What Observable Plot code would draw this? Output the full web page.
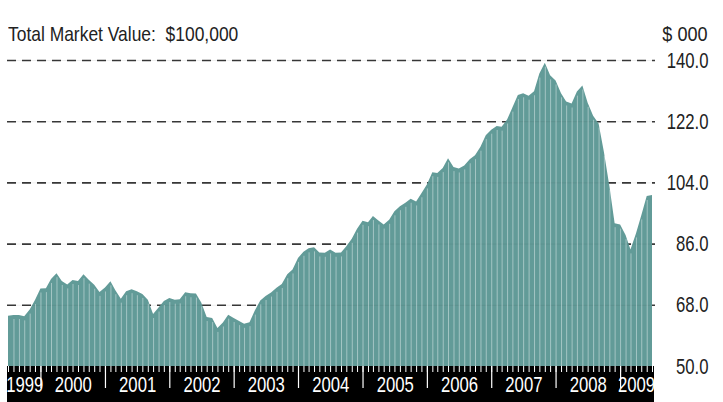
<!DOCTYPE html>
<html>
<head>
<meta charset="utf-8">
<script src="https://cdn.jsdelivr.net/npm/d3@7"></script>
<script src="https://cdn.jsdelivr.net/npm/@observablehq/plot@0.6"></script>
<style>
  body { margin: 0; background: #fff; }
  #wrap { position: relative; width: 723px; height: 402px;
          font-family: "Liberation Sans", Arial, sans-serif; }
  .lbl { position: absolute; top: 23px; font-size: 21px; line-height: 21px; color: #222; white-space: pre; }
</style>
</head>
<body>
<div id="wrap"></div>
<script>
// ---- data ----
const title = "Total Market Value:  $100,000";
const unitLabel = "$ 000";
const startYear = 1999, startMonth = 6; // July 1999 (0-based month)
const values = [
  64.8, 65.0, 65.0, 64.6, 66.6, 69.4,                          // 1999 Jul-Dec
  72.8, 72.9, 75.6, 77.3, 75.0, 74.0, 75.3, 75.0, 77.0, 75.4, 73.9, 71.8, // 2000
  73.1, 74.9, 72.3, 69.8, 72.0, 72.6, 72.0, 71.2, 69.5, 65.3, 67.2, 69.1, // 2001
  70.0, 69.5, 69.6, 71.7, 71.4, 71.3, 68.7, 64.4, 64.1, 61.2, 62.8, 65.1, // 2002
  64.1, 63.2, 62.4, 62.9, 66.3, 69.3, 70.6, 71.6, 73.0, 74.1, 77.0, 78.4, // 2003
  81.8, 83.6, 84.6, 84.9, 83.4, 83.3, 84.3, 83.3, 83.4, 85.2, 87.4, 90.4, // 2004
  92.7, 92.3, 94.1, 92.8, 91.6, 93.0, 95.5, 97.0, 98.0, 99.2, 98.4, 100.8, // 2005
  103.4, 107.0, 106.8, 108.2, 111.1, 108.5, 108.1, 109.0, 110.8, 112.0, 114.5, 117.9, // 2006
  119.5, 120.6, 120.4, 122.5, 126.0, 129.7, 130.2, 129.5, 130.8, 136.0, 139.2, 135.5, // 2007
  134.0, 130.2, 127.8, 127.2, 130.7, 132.5, 127.4, 123.6, 121.3, 113.0, 103.0, 92.0, // 2008
  91.6, 88.5, 84.3, 89.0, 94.3, 100.0, 100.3                  // 2009 Jan-Jul
];
const yTicks = [50, 68, 86, 104, 122, 140];
const years = ["1999", "2000", "2001", "2002", "2003", "2004", "2005", "2006", "2007", "2008", "2009"];

// ---- derived tables ----
const start = new Date(Date.UTC(startYear, startMonth, 1));
const data = values.map((v, i) => ({ date: d3.utcMonth.offset(start, i), value: v }));
const x0 = data[0].date, x1 = data[data.length - 1].date;
const yearInfo = years.map(y => {
  const a = new Date(Date.UTC(+y, 0, 1)), b = new Date(Date.UTC(+y + 1, 0, 1));
  const lo = a < x0 ? x0 : a, hi = b > x1 ? x1 : b;
  return { year: y, start: a, mid: new Date((+lo + +hi) / 2) };
});
const yearBounds = yearInfo.filter(d => d.start > x0 && d.start <= x1);

const H = 402, mTop = 60, mBottom = 36;
const unitsPerPx = (140 - 50) / (H - mTop - mBottom);
const px = p => p * unitsPerPx;   // pixel length -> y units

const teal = "#629b98";
const font = '"Liberation Sans", Arial, sans-serif';

const chart = Plot.plot({
  width: 723, height: H,
  marginLeft: 8, marginRight: 71, marginTop: mTop, marginBottom: mBottom,
  x: { type: "utc", domain: [x0, x1], axis: null },
  y: { domain: [50, 140], axis: null },
  style: { fontFamily: font, background: "transparent", overflow: "visible" },
  marks: [
    Plot.ruleY(yTicks.filter(d => d > 50), { y: d => d, stroke: "#3a3a3a", strokeWidth: 1.6, strokeDasharray: "9,6", insetLeft: -1, insetRight: -3 }),
    Plot.areaY(data, { x: "date", y1: 50, y2: "value", fill: teal }),
    Plot.ruleY(yTicks.filter(d => d > 50), { y: d => d, stroke: "#000", strokeOpacity: 0.06, strokeWidth: 1 }),
    Plot.ruleX(data.slice(1, -1), { x: "date", y1: 50, y2: d => d.value - px(4), stroke: "#d9e8e7", strokeOpacity: 0.55, strokeWidth: 1 }),
    Plot.rect([{ a: x0, b: x1 }], { x1: "a", x2: "b", y1: 50, y2: 50 - px(mBottom), fill: "#000", insetLeft: -1, insetRight: -2 }),
    Plot.ruleX(data, { x: "date", y1: 50, y2: 50 - px(6), stroke: "#fff", strokeWidth: 1 }),
    Plot.ruleX(yearBounds, { x: "start", y1: 50, y2: 50 - px(22), stroke: "#fff", strokeWidth: 1.2 }),
    Plot.text(yearInfo, { x: "mid", frameAnchor: "bottom", dy: 18, text: "year", fill: "#fff", fontSize: 22, lineAnchor: "middle" }),
    Plot.text(yTicks, { y: d => d, text: d => d.toFixed(1), frameAnchor: "right", dx: 56, textAnchor: "end", fontSize: 22, fill: "#222", lineAnchor: "middle" })
  ]
});

// condense the glyphs horizontally (the reference uses a condensed face)
chart.querySelectorAll("text").forEach(el => {
  const tr = el.getAttribute("transform") || "";
  el.setAttribute("transform", tr + " scale(0.76,1)");
});

const wrap = document.getElementById("wrap");
wrap.appendChild(chart);
const t = document.createElement("div");
t.className = "lbl"; t.style.left = "8px"; t.style.transformOrigin = "left center";
t.style.transform = "scaleX(0.83)"; t.textContent = title;
wrap.appendChild(t);
const u = document.createElement("div");
u.className = "lbl"; u.style.right = "15px"; u.style.transformOrigin = "right center";
u.style.transform = "scaleX(0.86)"; u.textContent = unitLabel;
wrap.appendChild(u);
</script>
</body>
</html>
